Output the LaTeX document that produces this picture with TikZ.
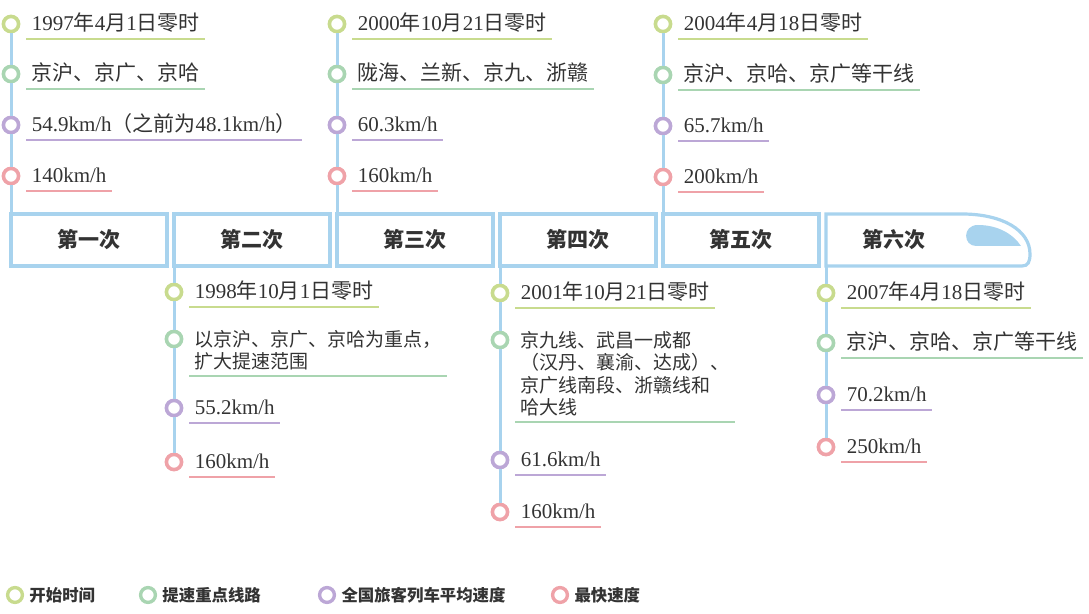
\documentclass[tikz,border=0pt]{standalone}
\usepackage{fontspec}
\setmainfont{Liberation Serif}
\newfontfamily\cjk{Noto Sans CJK SC}
\usetikzlibrary{positioning}
\definecolor{railblue}{HTML}{A8D3EE}
\definecolor{startgreen}{HTML}{C8DB8E}
\definecolor{routegreen}{HTML}{A9D5B2}
\definecolor{avgpurple}{HTML}{BCA7D6}
\definecolor{toppink}{HTML}{EFA2A8}
\definecolor{inkgray}{HTML}{333333}
% Han characters and full-width punctuation switch to the CJK font
\XeTeXinterchartokenstate=1
\newXeTeXintercharclass\zhclass
\newcount\zhc
\zhc="3000 \loop\XeTeXcharclass\zhc=\zhclass\advance\zhc by 1\relax\ifnum\zhc<"A000 \repeat
\zhc="FF00 \loop\XeTeXcharclass\zhc=\zhclass\advance\zhc by 1\relax\ifnum\zhc<"FFF0 \repeat
\XeTeXinterchartoks 0 \zhclass={\cjk}
\XeTeXinterchartoks 4095 \zhclass={\cjk}
\XeTeXinterchartoks \zhclass 0={\rmfamily}

\begin{document}
\begin{tikzpicture}[
  x=0.5pt, y=-0.5pt,
  stage/.style={rectangle, draw=railblue, line width=1.6pt, fill=white,
                minimum width=78pt, minimum height=26pt, inner sep=0pt, outer sep=0pt,
                text=inkgray, font=\fontsize{10.5}{12}\selectfont\bfseries\cjk},
  rail/.style={draw=railblue, line width=1.5pt},
  dot/.style={circle, draw=#1, line width=1.8pt, fill=white, minimum size=7.6pt, inner sep=0pt},
  item/.style={inner xsep=2.5pt, inner ysep=2.5pt, text=inkgray,
               append after command={(\tikzlastnode.south west) edge[draw=#1, line width=1pt] (\tikzlastnode.south east)}},
  txt/.style={item=#1, text height=8.5pt, text depth=1.5pt, font=\fontsize{10.5}{12}\selectfont},
  txtm/.style={item=#1, align=left, font=\fontsize{9.5}{11.2}\selectfont},
  key/.style={circle, draw=#1, line width=1.7pt, minimum size=7.4pt, inner sep=0pt},
  keytext/.style={inner sep=0.5pt, text=inkgray, font=\fontsize{8.2}{10}\selectfont\bfseries\cjk}
]
  \useasboundingbox (0,0) rectangle (1089,614);

  % the six stages
  \node[stage] (s1) at (89,240) {第一次};
  \node[stage, right=3.5pt of s1] (s2) {第二次};
  \node[stage, right=3.5pt of s2] (s3) {第三次};
  \node[stage, right=3.5pt of s3] (s4) {第四次};
  \node[stage, right=3.5pt of s4] (s5) {第五次};
  \node[stage, draw=none, fill=none, minimum width=68pt, right=3.5pt of s5] (s6) {第六次};
  \draw[rail, line width=1.6pt] (s6.south west) -- (s6.north west) -- (s6.north east)
    .. controls +(40,0) and +(0,-24) .. ++(68,40)
    .. controls +(0,8) and +(6,0) .. ++(-8,12) -- cycle;
  \fill[railblue] (1021,246) -- (976,246) .. controls (963,246) and (962,225) .. (978,225)
    .. controls (998,225) and (1013,234) .. (1021,246) -- cycle;

  % first
  \node[dot=startgreen] (a1) at (s1.north west |- 0,24) {};
  \node[dot=routegreen] (a2) at (s1.north west |- 0,74) {};
  \node[dot=avgpurple] (a3) at (s1.north west |- 0,125) {};
  \node[dot=toppink] (a4) at (s1.north west |- 0,176) {};
  \node[txt=startgreen, right=3pt of a1] (ta1) {1997年4月1日零时};
  \node[txt=routegreen, right=3pt of a2] (ta2) {京沪、京广、京哈};
  \node[txt=avgpurple, right=3pt of a3] (ta3) {54.9km/h（之前为48.1km/h）};
  \node[txt=toppink, right=3pt of a4] (ta4) {140km/h};

  % second
  \node[dot=startgreen] (b1) at (s2.south west |- 0,292) {};
  \node[dot=routegreen] (b2) at (s2.south west |- 0,339) {};
  \node[dot=avgpurple] (b3) at (s2.south west |- 0,408) {};
  \node[dot=toppink] (b4) at (s2.south west |- 0,462) {};
  \node[txt=startgreen, right=3pt of b1] (tb1) {1998年10月1日零时};
  \node[txtm=routegreen, right=3pt of b2, anchor=north west, yshift=7pt] (tb2) {以京沪、京广、京哈为重点，\\扩大提速范围};
  \node[txt=avgpurple, right=3pt of b3] (tb3) {55.2km/h};
  \node[txt=toppink, right=3pt of b4] (tb4) {160km/h};

  % third
  \node[dot=startgreen] (c1) at (s3.north west |- 0,24) {};
  \node[dot=routegreen] (c2) at (s3.north west |- 0,74) {};
  \node[dot=avgpurple] (c3) at (s3.north west |- 0,125) {};
  \node[dot=toppink] (c4) at (s3.north west |- 0,176) {};
  \node[txt=startgreen, right=3pt of c1] (tc1) {2000年10月21日零时};
  \node[txt=routegreen, right=3pt of c2] (tc2) {陇海、兰新、京九、浙赣};
  \node[txt=avgpurple, right=3pt of c3] (tc3) {60.3km/h};
  \node[txt=toppink, right=3pt of c4] (tc4) {160km/h};

  % fourth
  \node[dot=startgreen] (d1) at (s4.south west |- 0,293) {};
  \node[dot=routegreen] (d2) at (s4.south west |- 0,340) {};
  \node[dot=avgpurple] (d3) at (s4.south west |- 0,460) {};
  \node[dot=toppink] (d4) at (s4.south west |- 0,512) {};
  \node[txt=startgreen, right=3pt of d1] (td1) {2001年10月21日零时};
  \node[txtm=routegreen, right=3pt of d2, anchor=north west, yshift=7pt] (td2) {京九线、武昌一成都\\（汉丹、襄渝、达成）、\\京广线南段、浙赣线和\\哈大线};
  \node[txt=avgpurple, right=3pt of d3] (td3) {61.6km/h};
  \node[txt=toppink, right=3pt of d4] (td4) {160km/h};

  % fifth
  \node[dot=startgreen] (e1) at (s5.north west |- 0,24) {};
  \node[dot=routegreen] (e2) at (s5.north west |- 0,75) {};
  \node[dot=avgpurple] (e3) at (s5.north west |- 0,126) {};
  \node[dot=toppink] (e4) at (s5.north west |- 0,177) {};
  \node[txt=startgreen, right=3pt of e1] (te1) {2004年4月18日零时};
  \node[txt=routegreen, right=3pt of e2] (te2) {京沪、京哈、京广等干线};
  \node[txt=avgpurple, right=3pt of e3] (te3) {65.7km/h};
  \node[txt=toppink, right=3pt of e4] (te4) {200km/h};

  % sixth
  \node[dot=startgreen] (f1) at (s6.south west |- 0,293) {};
  \node[dot=routegreen] (f2) at (s6.south west |- 0,343) {};
  \node[dot=avgpurple] (f3) at (s6.south west |- 0,395) {};
  \node[dot=toppink] (f4) at (s6.south west |- 0,447) {};
  \node[txt=startgreen, right=3pt of f1] (tf1) {2007年4月18日零时};
  \node[txt=routegreen, right=3pt of f2] (tf2) {京沪、京哈、京广等干线};
  \node[txt=avgpurple, right=3pt of f3] (tf3) {70.2km/h};
  \node[txt=toppink, right=3pt of f4] (tf4) {250km/h};

  % rails
  \foreach \u/\v in {a1/a2, a2/a3, a3/a4, b1/b2, b2/b3, b3/b4, c1/c2, c2/c3, c3/c4,
                     d1/d2, d2/d3, d3/d4, e1/e2, e2/e3, e3/e4, f1/f2, f2/f3, f3/f4}
    \draw[rail] (\u) -- (\v);
  \draw[rail] (a4) -- (s1.north west);
  \draw[rail] (c4) -- (s3.north west);
  \draw[rail] (e4) -- (s5.north west);
  \draw[rail] (s2.south west) -- (b1);
  \draw[rail] (s4.south west) -- (d1);
  \draw[rail] (s6.south west) -- (f1);

  % legend
  \node[key=startgreen] (k1) at (15,595) {};
  \node[keytext, right=2pt of k1] (kt1) {开始时间};
  \node[key=routegreen] (k2) at (148,595) {};
  \node[keytext, right=2pt of k2] (kt2) {提速重点线路};
  \node[key=avgpurple] (k3) at (327,595) {};
  \node[keytext, right=2pt of k3] (kt3) {全国旅客列车平均速度};
  \node[key=toppink] (k4) at (560,595) {};
  \node[keytext, right=2pt of k4] (kt4) {最快速度};
\end{tikzpicture}
\end{document}
